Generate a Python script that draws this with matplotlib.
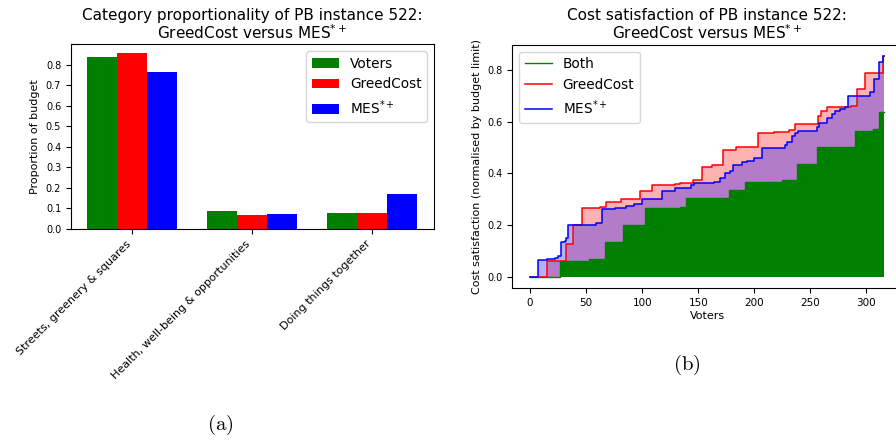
import matplotlib
matplotlib.use("Agg")
import matplotlib.pyplot as plt
import numpy as np

# ---------------- data: left panel ----------------
categories = ["Streets, greenery & squares",
              "Health, well-being & opportunities",
              "Doing things together"]
voters_share = [0.837, 0.087, 0.077]
greedcost_share = [0.857, 0.068, 0.077]
mes_share = [0.765, 0.073, 0.170]

# ---------------- data: right panel (step breakpoints) ----------------
n_voters_end = 316
greed_x = [0, 15.5, 32, 38, 46, 62, 68, 81, 98.2, 109.2, 129.5, 133.3, 145, 153.3,
           162.2, 172, 183.9, 203, 217.3, 231.3, 236.6, 256.8, 259.5, 264.9, 286.6,
           291.5, 298.5, 315]
greed_y = [0, 0.062, 0.128, 0.200, 0.265, 0.270, 0.290, 0.300, 0.334, 0.354, 0.360,
           0.364, 0.373, 0.424, 0.434, 0.490, 0.502, 0.555, 0.562, 0.570, 0.592,
           0.624, 0.640, 0.656, 0.660, 0.725, 0.790, 0.855]

mes_x = [0, 7, 15, 22, 24.5, 27.4, 31, 32.5, 34.2, 59, 64.5, 76, 86, 92.3, 99.7,
         118, 129.5, 143.8, 145.8, 163.7, 169.6, 174, 178, 181, 189, 193.5, 200,
         207, 227.7, 229, 233.6, 236.6, 239, 256, 258, 265, 269.3, 272.3, 276.8,
         281.3, 284, 303.6, 307, 311.6, 314.6]
mes_y = [0, 0.064, 0.068, 0.075, 0.082, 0.134, 0.140, 0.150, 0.200, 0.210, 0.263,
         0.268, 0.274, 0.282, 0.300, 0.334, 0.344, 0.356, 0.363, 0.369, 0.382,
         0.400, 0.410, 0.433, 0.443, 0.450, 0.461, 0.500, 0.510, 0.520, 0.545,
         0.558, 0.566, 0.578, 0.595, 0.613, 0.630, 0.643, 0.648, 0.656, 0.700,
         0.716, 0.766, 0.830, 0.855]

both_x = [0, 26.8, 52.7, 66.5, 82.5, 102.5, 133.5, 139.5, 177, 191.5, 225, 238,
          255.5, 290, 306, 311.5]
both_y = [0, 0.063, 0.071, 0.134, 0.200, 0.265, 0.272, 0.304, 0.336, 0.367, 0.373,
          0.437, 0.503, 0.566, 0.572, 0.636]


def close_steps(xs, ys, end):
    return np.array(list(xs) + [end]), np.array(list(ys) + [ys[-1]])


fig = plt.figure(figsize=(8.96, 4.41), dpi=100)

XTICK = 8
YTICK = 7
LAB = 8
TITLE = 11
LEG = 9.8

# ---------------- left panel ----------------
ax1 = fig.add_axes([0.0792, 0.4807, 0.405, 0.4188])
pos = np.arange(len(categories))
w = 0.25
ax1.bar(pos - w, voters_share, w, color="green", label="Voters")
ax1.bar(pos, greedcost_share, w, color="red", label="GreedCost")
ax1.bar(pos + w, mes_share, w, color="blue", label="MES$^{*+}$")
ax1.set_xticks(pos)
ax1.set_xticklabels(categories, rotation=45, ha="right", fontsize=XTICK)
ax1.set_yticks(np.arange(0, 0.81, 0.1))
ax1.tick_params(axis="y", labelsize=YTICK)
ax1.set_ylabel("Proportion of budget", fontsize=LAB)
ax1.set_title("Category proportionality of PB instance 522:\nGreedCost versus MES$^{*+}$",
              fontsize=TITLE, pad=4, linespacing=1.0)
ax1.legend(loc="upper right", fontsize=LEG)

# ---------------- right panel ----------------
ax2 = fig.add_axes([0.5718, 0.3469, 0.435, 0.5517])
gx, gy = close_steps(greed_x, greed_y, n_voters_end)
mx, my = close_steps(mes_x, mes_y, n_voters_end)
bx, by = close_steps(both_x, both_y, n_voters_end)

ax2.fill_between(gx, gy, step="post", color="red", alpha=0.3, linewidth=0)
ax2.fill_between(mx, my, step="post", color="blue", alpha=0.3, linewidth=0)
ax2.fill_between(bx, by, step="post", color="green", linewidth=0)
ax2.step(bx, by, where="post", color="green", lw=1.0, label="Both")
ax2.step(gx, gy, where="post", color="red", lw=1.1, label="GreedCost")
ax2.step(mx, my, where="post", color="blue", lw=1.1, label="MES$^{*+}$")
ax2.set_xticks([0, 50, 100, 150, 200, 250, 300])
ax2.set_yticks([0.0, 0.2, 0.4, 0.6, 0.8])
ax2.tick_params(axis="x", labelsize=7.5)
ax2.tick_params(axis="y", labelsize=YTICK)
ax2.set_xlabel("Voters", fontsize=LAB, labelpad=2)
ax2.set_ylabel("Cost satisfaction (normalised by budget limit)", fontsize=LAB)
ax2.set_title("Cost satisfaction of PB instance 522:\nGreedCost versus MES$^{*+}$",
              fontsize=TITLE, pad=4, linespacing=1.0)
ax2.legend(loc="upper left", fontsize=LEG)

# ---------------- captions ----------------
fig.text(220 / 896, 1 - 425 / 441, r"$\mathrm{(a)}$", ha="center", va="center",
         fontsize=15, math_fontfamily="cm")
fig.text(687 / 896, 1 - 365 / 441, r"$\mathrm{(b)}$", ha="center", va="center",
         fontsize=15, math_fontfamily="cm")

fig.savefig("out.png", dpi=100)
